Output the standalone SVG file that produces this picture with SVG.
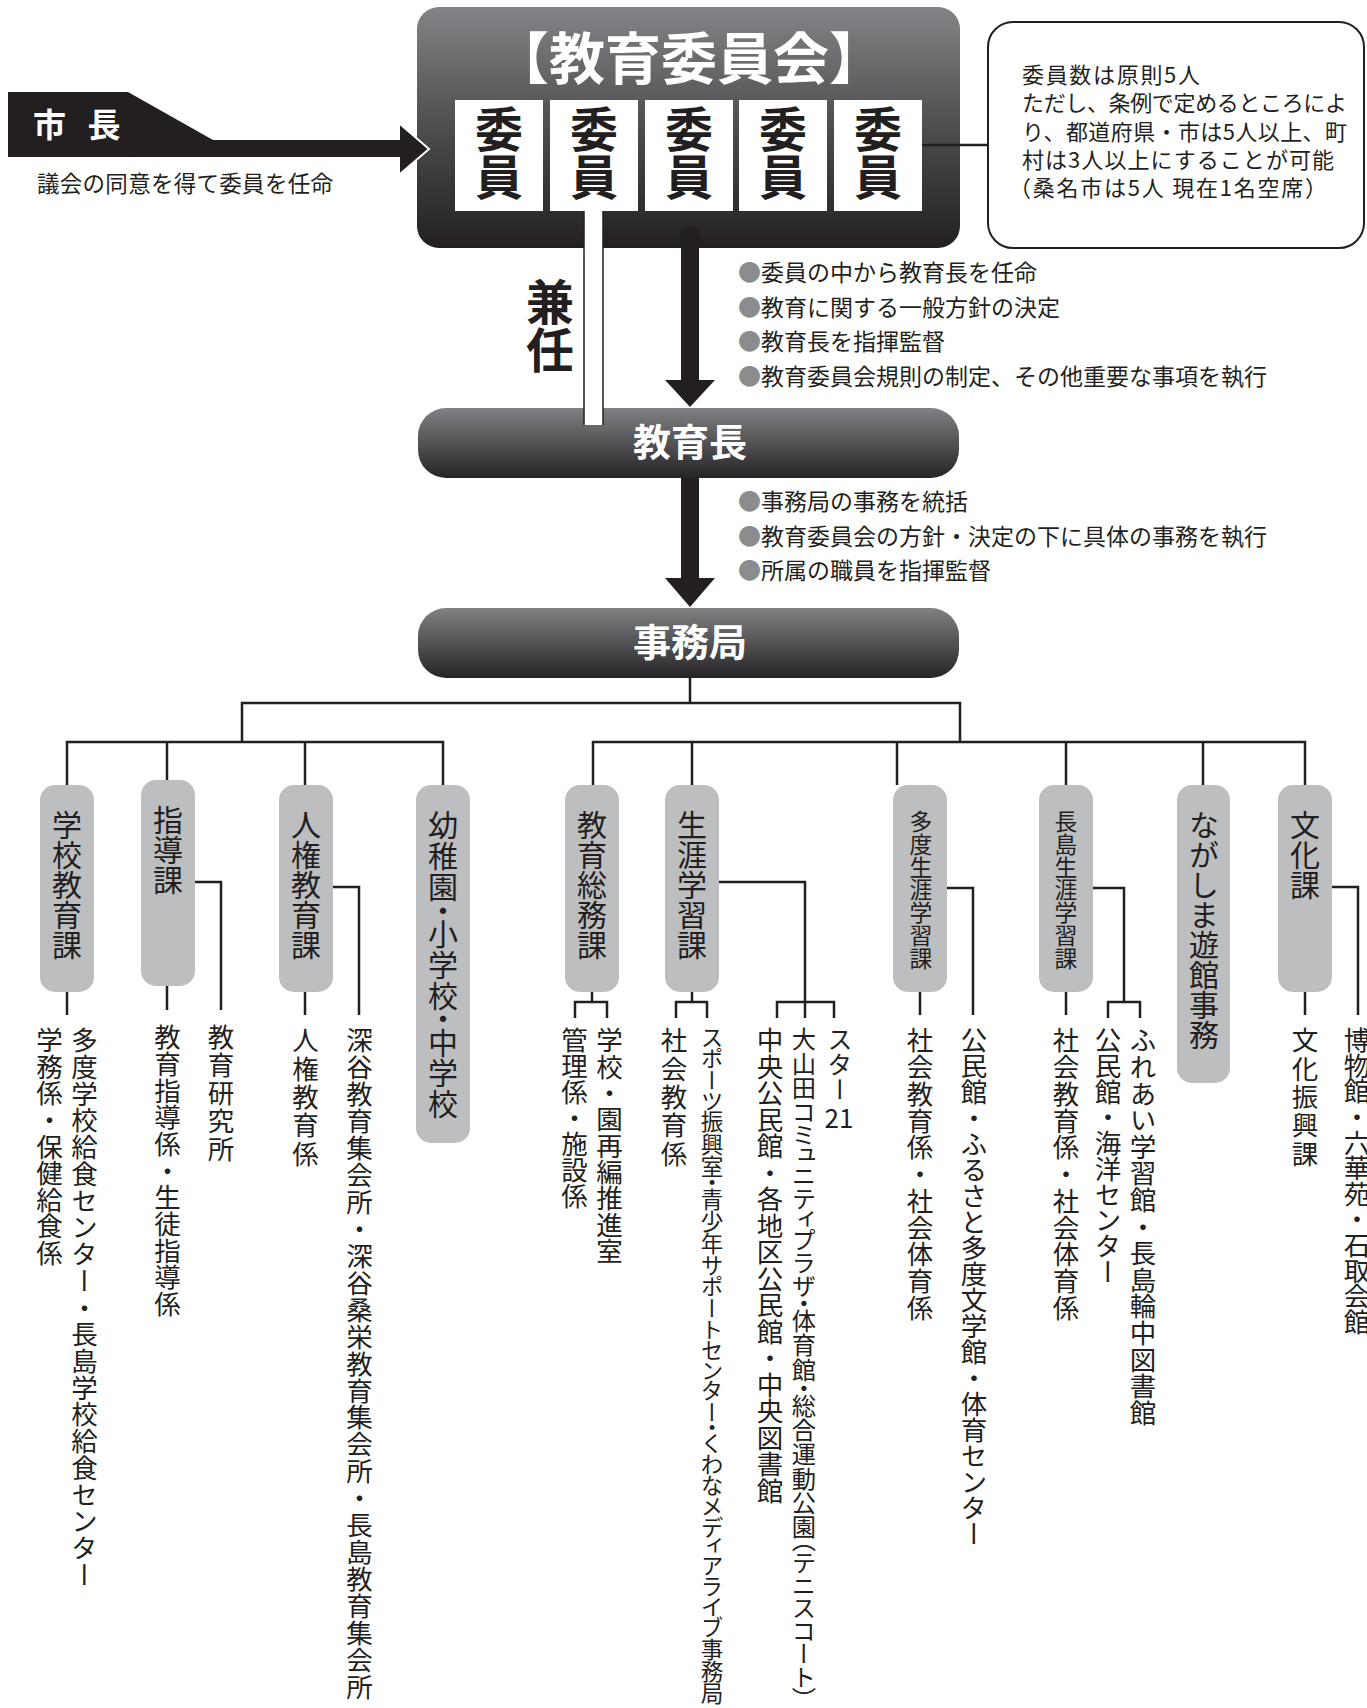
<svg xmlns="http://www.w3.org/2000/svg" width="1367" height="1708" viewBox="0 0 1367 1708">
<defs>
<linearGradient id="gCom" x1="0" y1="0" x2="0" y2="1">
<stop offset="0" stop-color="#838487"/>
<stop offset="0.55" stop-color="#48484a"/>
<stop offset="1" stop-color="#231f20"/>
</linearGradient>
<linearGradient id="gBar" x1="0" y1="0" x2="0" y2="1">
<stop offset="0" stop-color="#808184"/>
<stop offset="1" stop-color="#252325"/>
</linearGradient>
</defs>
<style>
text{font-family:"Noto Sans CJK JP","Noto Sans CJK SC",sans-serif;fill:#231f20}
.v{writing-mode:vertical-rl}
.w{fill:#fff;font-weight:700}
.b{font-weight:700}
.box{fill:#bcbec0}
.ln{fill:none;stroke:#231f20;stroke-width:2.5}
.bt{font-size:30px}
.bs{font-size:22.8px}
.st{font-size:26.5px}
.sp{font-feature-settings:"vpal" 1}
.bl{font-size:23px}
.nt{font-size:22px}
.dot{fill:#8a8c8e}
</style>

<g id="mayor">
<polygon points="8,92 128,92 213,140 402,140 402,157 8,157" fill="#231f20"/>
<text x="33" y="137" class="w" font-size="33" word-spacing="14">市 長</text>
<text x="37" y="192" font-size="22.5" textLength="296">議会の同意を得て委員を任命</text>
</g>

<g id="committee">
<rect x="417" y="7" width="543" height="241" rx="22" fill="url(#gCom)"/>
<text x="689" y="79" class="w" font-size="56" text-anchor="middle">【教育委員会】</text>
<rect x="455" y="100" width="88" height="111" fill="#fff"/>
<rect x="550" y="100" width="88" height="111" fill="#fff"/>
<rect x="645" y="100" width="88" height="111" fill="#fff"/>
<rect x="739" y="100" width="88" height="111" fill="#fff"/>
<rect x="834" y="100" width="88" height="111" fill="#fff"/>
<text class="v b" x="499" y="105" font-size="48">委員</text>
<text class="v b" x="594" y="105" font-size="48">委員</text>
<text class="v b" x="689" y="105" font-size="48">委員</text>
<text class="v b" x="783" y="105" font-size="48">委員</text>
<text class="v b" x="878" y="105" font-size="48">委員</text>
</g>

<g id="note">
<rect x="988" y="22" width="376" height="226" rx="25" fill="#fff" stroke="#231f20" stroke-width="2"/>
<text x="1022" y="83" class="nt" textLength="178">委員数は原則5人</text>
<text x="1022" y="111" class="nt" textLength="325">ただし、条例で定めるところによ</text>
<text x="1022" y="140" class="nt" textLength="325">り、都道府県・市は5人以上、町</text>
<text x="1022" y="168" class="nt" textLength="312">村は3人以上にすることが可能</text>
<text x="1009" y="196" class="nt" textLength="318">（桑名市は5人 現在1名空席）</text>
</g>

<g id="committee-duties">
<text x="738" y="281" class="bl"><tspan class="dot">●</tspan>委員の中から教育長を任命</text>
<text x="738" y="316" class="bl"><tspan class="dot">●</tspan>教育に関する一般方針の決定</text>
<text x="738" y="350" class="bl"><tspan class="dot">●</tspan>教育長を指揮監督</text>
<text x="738" y="385" class="bl"><tspan class="dot">●</tspan>教育委員会規則の制定、その他重要な事項を執行</text>
</g>

<g id="kennin">
<text class="v b" x="550" y="278" font-size="48">兼任</text>
</g>

<g id="kyoikucho">
<rect x="418" y="408" width="541" height="70" rx="28" fill="url(#gBar)"/>
<text x="690" y="456" class="w" font-size="38" text-anchor="middle">教育長</text>
</g>

<g id="kyoikucho-duties">
<text x="738" y="510" class="bl"><tspan class="dot">●</tspan>事務局の事務を統括</text>
<text x="738" y="545" class="bl"><tspan class="dot">●</tspan>教育委員会の方針・決定の下に具体の事務を執行</text>
<text x="738" y="579" class="bl"><tspan class="dot">●</tspan>所属の職員を指揮監督</text>
</g>

<g id="jimukyoku">
<rect x="418" y="608" width="541" height="70" rx="28" fill="url(#gBar)"/>
<text x="690" y="656" class="w" font-size="38" text-anchor="middle">事務局</text>
</g>

<g id="gakko-kyoiku">
<rect class="box" x="40" y="785" width="54" height="207" rx="15"/>
<text class="v bt" x="67" y="810">学校教育課</text>
<text class="v st" x="49.5" y="1027" textLength="239" lengthAdjust="spacing">学務係・保健給食係</text>
<text class="v st" x="84.5" y="1027" textLength="561" lengthAdjust="spacing">多度学校給食センター・長島学校給食センター</text>
</g>

<g id="shido">
<rect class="box" x="141" y="780" width="54" height="206" rx="15"/>
<text class="v bt" x="168" y="805">指導課</text>
<text class="v st" x="167.5" y="1024" textLength="293" lengthAdjust="spacing">教育指導係・生徒指導係</text>
<text class="v st" x="221" y="1024" textLength="138" lengthAdjust="spacing">教育研究所</text>
</g>

<g id="jinken">
<rect class="box" x="279" y="785" width="54" height="207" rx="15"/>
<text class="v bt" x="306" y="810">人権教育課</text>
<text class="v st" x="305.5" y="1027" textLength="140" lengthAdjust="spacing">人権教育係</text>
<text class="v st" x="359.5" y="1027" textLength="673" lengthAdjust="spacing">深谷教育集会所・深谷桑栄教育集会所・長島教育集会所</text>
</g>

<g id="yochien">
<rect class="box" x="416" y="785" width="54" height="358" rx="15"/>
<text class="v bt sp" x="443" y="810" textLength="309" lengthAdjust="spacing">幼稚園・小学校・中学校</text>
</g>

<g id="somu">
<rect class="box" x="565" y="785" width="54" height="207" rx="15"/>
<text class="v bt" x="592" y="810">教育総務課</text>
<text class="v st" x="574.5" y="1027" textLength="182" lengthAdjust="spacing">管理係・施設係</text>
<text class="v st" x="609.5" y="1027" textLength="237" lengthAdjust="spacing">学校・園再編推進室</text>
</g>

<g id="shogai">
<rect class="box" x="665" y="785" width="54" height="207" rx="15"/>
<text class="v bt" x="692" y="810">生涯学習課</text>
<text class="v st" x="674" y="1027" textLength="140" lengthAdjust="spacing">社会教育係</text>
<text class="v sp" x="712" y="1027" font-size="22.6" textLength="678" lengthAdjust="spacing">スポーツ振興室・青少年サポートセンター・くわなメディアライブ事務局</text>
<text class="v st" x="770" y="1027" textLength="477" lengthAdjust="spacing">中央公民館・各地区公民館・中央図書館</text>
<text class="v sp" x="804" y="1027" font-size="24.3" textLength="673" lengthAdjust="spacing">大山田コミュニティプラザ・体育館・総合運動公園（テニスコート）</text>
<text class="v" x="840" y="1027" font-size="25">スター</text>
<text x="839" y="1128" font-size="26" text-anchor="middle">21</text>
</g>

<g id="tado">
<rect class="box" x="893" y="785" width="54" height="207" rx="15"/>
<text class="v bs" x="921" y="810">多度生涯学習課</text>
<text class="v st" x="920" y="1027" textLength="294" lengthAdjust="spacing">社会教育係・社会体育係</text>
<text class="v st" x="974" y="1027" textLength="520" lengthAdjust="spacing">公民館・ふるさと多度文学館・体育センター</text>
</g>

<g id="nagashima">
<rect class="box" x="1039" y="785" width="54" height="207" rx="15"/>
<text class="v bs" x="1066" y="810">長島生涯学習課</text>
<text class="v st" x="1066" y="1027" textLength="294" lengthAdjust="spacing">社会教育係・社会体育係</text>
<text class="v st" x="1108" y="1027" textLength="258" lengthAdjust="spacing">公民館・海洋センター</text>
<text class="v st" x="1143" y="1027" textLength="399" lengthAdjust="spacing">ふれあい学習館・長島輪中図書館</text>
</g>

<g id="yukan">
<rect class="box" x="1177" y="785" width="53" height="298" rx="15"/>
<text class="v bt" x="1204" y="810">ながしま遊館事務</text>
</g>

<g id="bunka">
<rect class="box" x="1278" y="785" width="54" height="207" rx="15"/>
<text class="v bt" x="1305" y="810">文化課</text>
<text class="v st" x="1305" y="1027" textLength="140" lengthAdjust="spacing">文化振興課</text>
<text class="v st" x="1357" y="1027" textLength="308" lengthAdjust="spacing">博物館・六華苑・石取会館</text>
</g>

<g id="connectors">
<polygon points="400,124 429,149 400,174" fill="#231f20"/>
<polyline points="400,124 429,149 400,174" fill="none" stroke="#fff" stroke-width="2"/>
<rect x="584" y="211" width="19" height="214" fill="#fff"/>
<path d="M584,211 V425 M603,211 V425" stroke="#231f20" stroke-width="1.5" fill="none"/>
<rect x="681" y="227" width="18" height="154" fill="#231f20"/>
<polygon points="665,380 715,380 690,407" fill="#231f20"/>
<rect x="681" y="478" width="18" height="101" fill="#231f20"/>
<polygon points="665,578 715,578 690,607" fill="#231f20"/>
<path class="ln" d="M922,145 H988"/>
<path class="ln" d="M690,678 V703 M242,742 V703 H960 V742"/>
<path class="ln" d="M67,785 V742 H443 V785 M167,742 V780 M305,742 V785"/>
<path class="ln" d="M593,785 V742 H1305 V785 M692,742 V785 M897,742 V785 M1066,742 V785 M1203,742 V785"/>
<path class="ln" d="M67,992 V1015"/>
<path class="ln" d="M167,986 V1010 M195,882 H221 V1010"/>
<path class="ln" d="M305,992 V1015 M333,887 H359 V1015"/>
<path class="ln" d="M592,992 V1002 M575,1018 V1002 H607 V1018"/>
<path class="ln" d="M692,992 V1002 M676,1018 V1002 H707 V1018 M719,882 H805 V1018 M777,1018 V1002 H834 V1018"/>
<path class="ln" d="M920,992 V1015 M947,888 H973 V1015"/>
<path class="ln" d="M1066,992 V1015 M1093,888 H1124 V1002 M1108,1018 V1002 H1140 V1018"/>
<path class="ln" d="M1305,992 V1015 M1332,887 H1358 V1015"/>
</g>
</svg>
